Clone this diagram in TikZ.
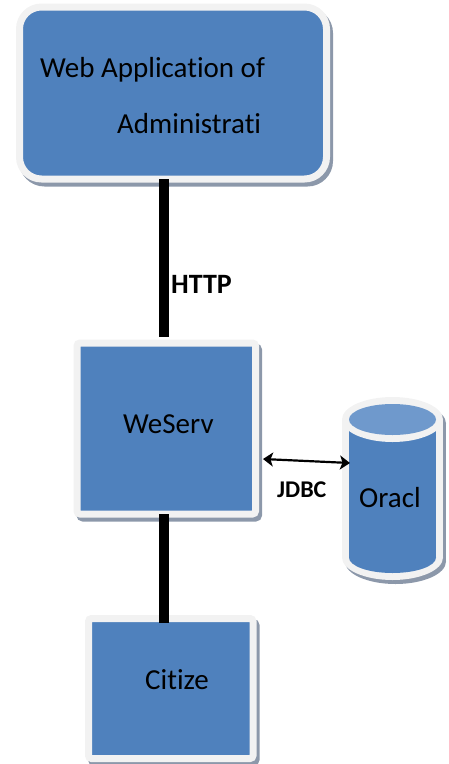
\documentclass[tikz,border=0pt]{standalone}
\usepackage{fontspec}
\setmainfont[Ligatures=NoCommon]{Carlito}
\usetikzlibrary{arrows.meta,calc,shadows}
\definecolor{boxblue}{RGB}{79,129,189}
\definecolor{rimgray}{RGB}{242,242,242}
\definecolor{shadegray}{RGB}{140,152,170}
\definecolor{captop}{RGB}{111,153,204}
\begin{document}
\begin{tikzpicture}[x=1pt,y=-1pt,
  panel/.style={draw=rimgray, line width=7pt, fill=boxblue, inner sep=0pt, outer sep=0pt,
    drop shadow={shadow xshift=3pt, shadow yshift=-4pt, fill=shadegray, draw=shadegray,
                 line width=7pt, opacity=1}},
  txt/.style={inner sep=0pt, anchor=base west, font=\fontsize{29}{31}\selectfont},
  tag/.style={inner sep=0pt, anchor=base west, font=\fontsize{28}{30}\selectfont\bfseries},
  bus/.style={line width=10pt, black},
  link/.style={line width=2.2pt,
    {Stealth[length=10pt,width=14pt,inset=2.5pt]}-{Stealth[length=10pt,width=14pt,inset=2.5pt]}},
]
\useasboundingbox (0,0) rectangle (449,764);

% boxes
\node[panel, rounded corners=22pt, minimum width=307pt, minimum height=172pt] (admin) at (173,93) {};
\node[panel, rounded corners=3pt, minimum width=178.5pt, minimum height=171pt] (weserv) at (166.25,428.5) {};
\node[panel, rounded corners=3pt, minimum width=164.5pt, minimum height=140pt] (citize) at (170.75,688.5) {};

% database can
\fill[shadegray] (345,423.5) rectangle (446,561.5);
\fill[shadegray] (395.5,423.5) ellipse [x radius=50.5pt, y radius=22.5pt];
\fill[shadegray] (395.5,561.5) ellipse [x radius=50.5pt, y radius=22.5pt];
\fill[rimgray] (342,419.5) rectangle (443,557.5);
\fill[rimgray] (392.5,557.5) ellipse [x radius=50.5pt, y radius=22.5pt];
\fill[boxblue] (349,419.5) rectangle (436,557.5);
\fill[boxblue] (392.5,557.5) ellipse [x radius=43.5pt, y radius=15.5pt];
\fill[rimgray] (392.5,419.5) ellipse [x radius=50.5pt, y radius=22.5pt];
\fill[captop] (392.5,419.5) ellipse [x radius=43.5pt, y radius=15.5pt];
\coordinate (dbwest) at (350,463);

% texts
\node[txt] (admin1) at (40,77) {Web Application of};
\node[txt] (admin2) at (117,133) {Administrati};
\node[txt] (weservtxt) at (123,433) {WeServ};
\node[txt] (citizetxt) at (145,689) {Citize};
\node[txt] (dbtxt) at (359,507) {Oracl};
\node[tag] (http) at (171,293) {HTTP};
\node[tag, font=\fontsize{24}{26}\selectfont\bfseries] (jdbc) at (277,497) {JDBC};

% connectors
\coordinate (busx) at (164,0);
\draw[bus, shorten >=6pt] (admin.south -| busx) -- (weserv.north -| busx);
\draw[bus, shorten >=-4pt] (weserv.south -| busx) -- (citize.north -| busx);
\draw[link] ($(weserv.east)+(7.5,30.5)$) -- (dbwest);
\end{tikzpicture}
\end{document}
